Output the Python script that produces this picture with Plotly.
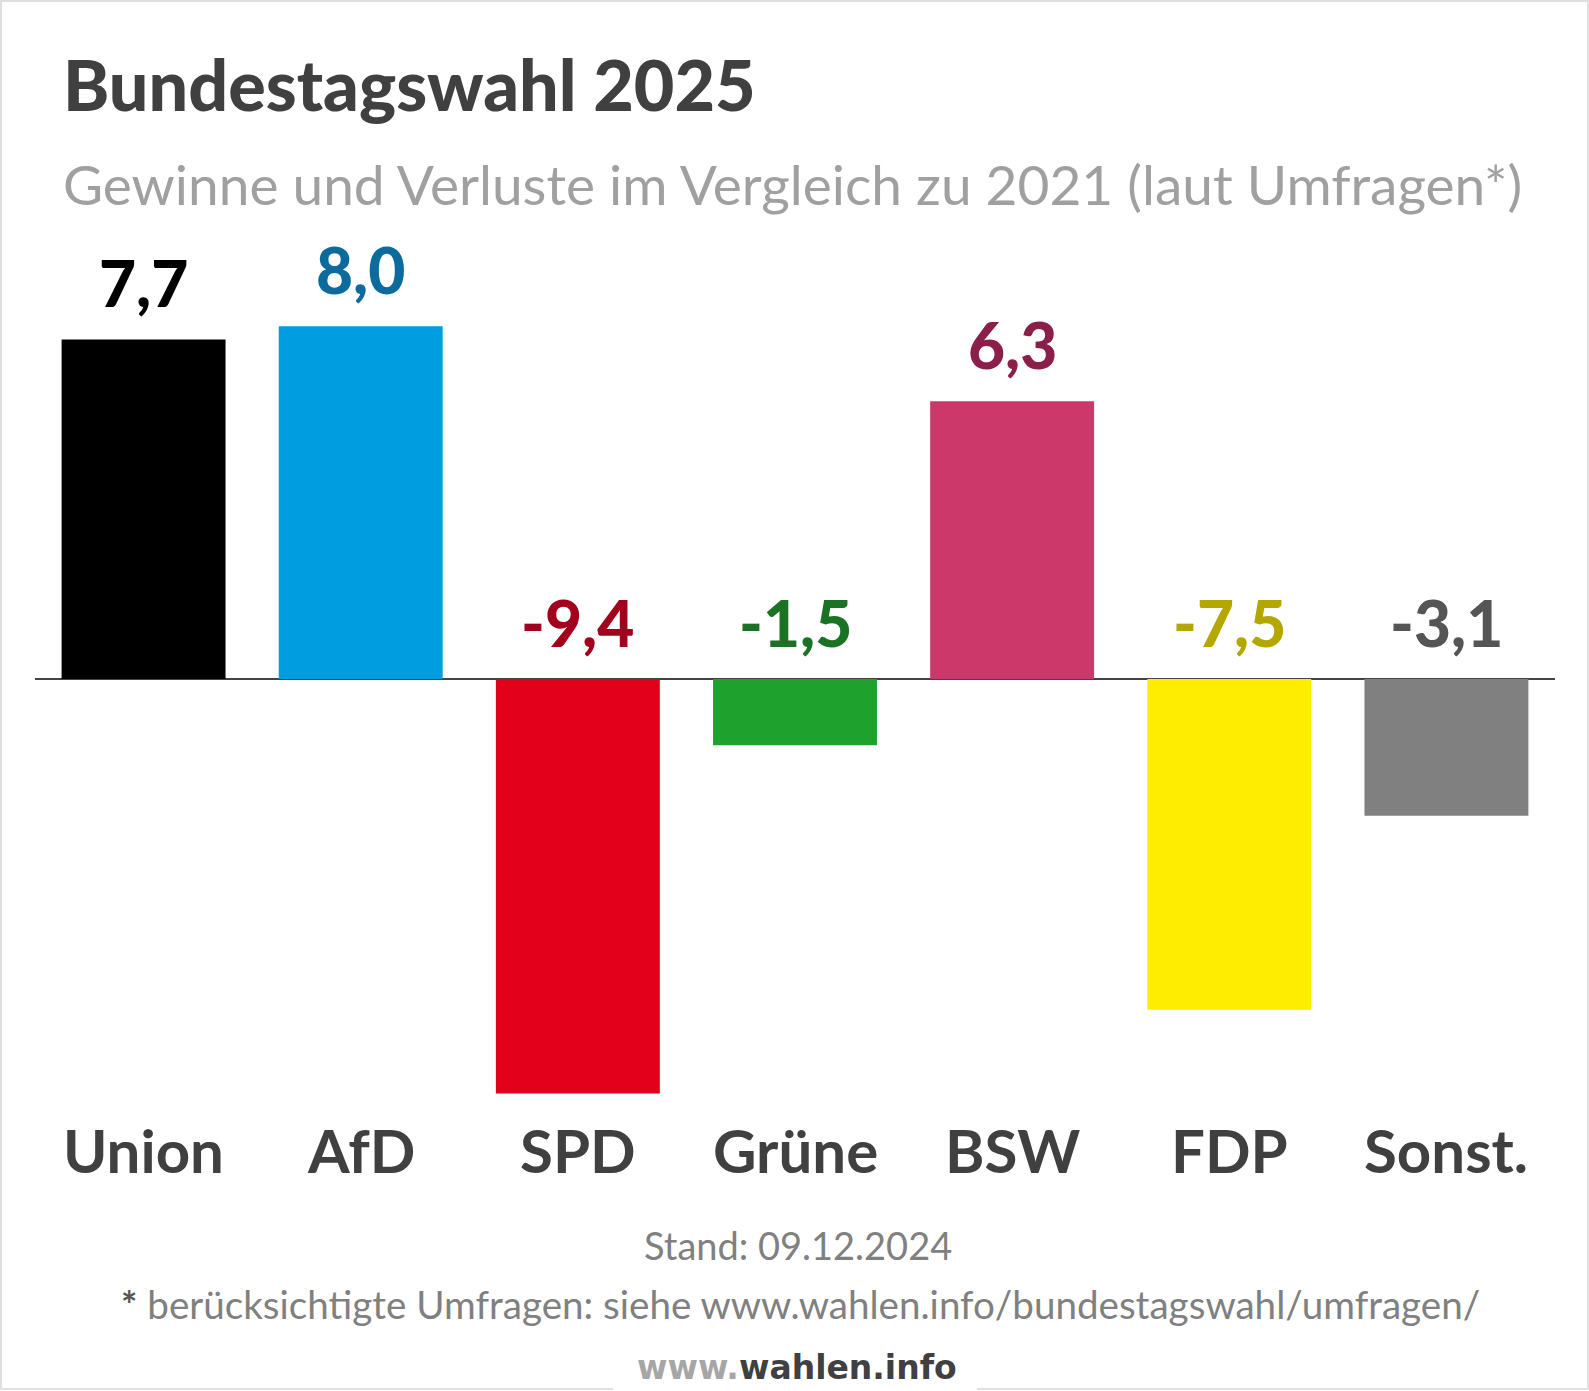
import plotly.graph_objects as go

parties = ["Union", "AfD", "SPD", "Grüne", "BSW", "FDP", "Sonst."]
changes = [7.7, 8.0, -9.4, -1.5, 6.3, -7.5, -3.1]
value_labels = ["7,7", "8,0", "-9,4", "-1,5", "6,3", "-7,5", "-3,1"]
bar_colors = ["#000000", "#009ee0", "#e3001b", "#1fa12e", "#cb3869", "#ffed00", "#808080"]
label_colors = ["#000000", "#0a6b9c", "#a3001e", "#1b7224", "#8c1f4a", "#b4a800", "#555555"]

title = "Bundestagswahl 2025"
subtitle = "Gewinne und Verluste im Vergleich zu 2021 (laut Umfragen*)"
stand = "Stand: 09.12.2024"
footnote = "<span style='color:#555555'><b>*</b></span> berücksichtigte Umfragen: siehe www.wahlen.info/bundestagswahl/umfragen/"

W, H = 1589, 1391
L, R, T, B = 35, 34, 230, 291
PW = W - L - R
PH = H - T - B


def px(x):
    return (x - L) / PW


def py(y):
    return (H - B - y) / PH


FONT = "Lato"

fig = go.Figure()
fig.add_trace(go.Bar(
    x=parties, y=changes, marker=dict(color=bar_colors, line=dict(width=0)),
    hoverinfo="skip", showlegend=False,
))

annotations = []
for p, v, t, c in zip(parties, changes, value_labels, label_colors):
    annotations.append(dict(
        x=p, y=max(v, 0), xref="x", yref="y", text=t,
        showarrow=False, yanchor="middle", xanchor="center", yshift=57,
        font=dict(family=FONT, size=64, color=c, weight=900),
    ))
for p in parties:
    annotations.append(dict(
        x=p, y=py(1150), xref="x", yref="paper", text=p,
        showarrow=False, yanchor="middle", xanchor="center",
        font=dict(family=FONT, size=60, color="#404040", weight="bold"),
    ))

annotations += [
    dict(x=px(61), y=py(84), xref="paper", yref="paper", text=title,
         showarrow=False, xanchor="left", yanchor="middle",
         font=dict(family=FONT, size=70, color="#404040", weight=900)),
    dict(x=px(61), y=py(184), xref="paper", yref="paper", text=subtitle,
         showarrow=False, xanchor="left", yanchor="middle",
         font=dict(family=FONT, size=55, color="#a0a0a0")),
    dict(x=px(798), y=py(1245), xref="paper", yref="paper", text=stand,
         showarrow=False, xanchor="center", yanchor="middle",
         font=dict(family=FONT, size=38, color="#808080")),
    dict(x=px(800), y=py(1304), xref="paper", yref="paper", text=footnote,
         showarrow=False, xanchor="center", yanchor="middle",
         font=dict(family=FONT, size=38.6, color="#808080")),
    dict(x=px(797), y=py(1367), xref="paper", yref="paper",
         text="<span style='color:#a6a6a6'>www.</span>wahlen.info",
         showarrow=False, xanchor="center", yanchor="middle",
         borderpad=0, borderwidth=0,
         font=dict(family="DejaVu Sans", size=33, color="#404040", weight="bold")),
]

border = dict(color="#e0e0e0", width=2)
shapes = [
    dict(type="line", xref="paper", yref="paper", x0=px(0), x1=px(W), y0=py(1), y1=py(1), line=border),
    dict(type="line", xref="paper", yref="paper", x0=px(1), x1=px(1), y0=py(0), y1=py(H - 2), line=border),
    dict(type="line", xref="paper", yref="paper", x0=px(W - 1), x1=px(W - 1), y0=py(0), y1=py(H - 2), line=border),
    dict(type="line", xref="paper", yref="paper", x0=px(0), x1=px(613), y0=py(H - 2), y1=py(H - 2), line=border),
    dict(type="line", xref="paper", yref="paper", x0=px(977), x1=px(W), y0=py(H - 2), y1=py(H - 2), line=border),
]

fig.update_layout(
    width=W, height=H,
    margin=dict(l=L, r=R, t=T, b=B),
    paper_bgcolor="white", plot_bgcolor="white",
    bargap=0.245,
    xaxis=dict(showticklabels=False, showgrid=False, zeroline=False, showline=False, ticks=""),
    yaxis=dict(range=[-(H - B - 679) / 44.09, (679 - T) / 44.09], showticklabels=False,
               showgrid=False, zeroline=True, zerolinecolor="#444444", zerolinewidth=1.5),
    annotations=annotations,
    shapes=shapes,
    font=dict(family=FONT),
)

fig.write_html("out.html")
